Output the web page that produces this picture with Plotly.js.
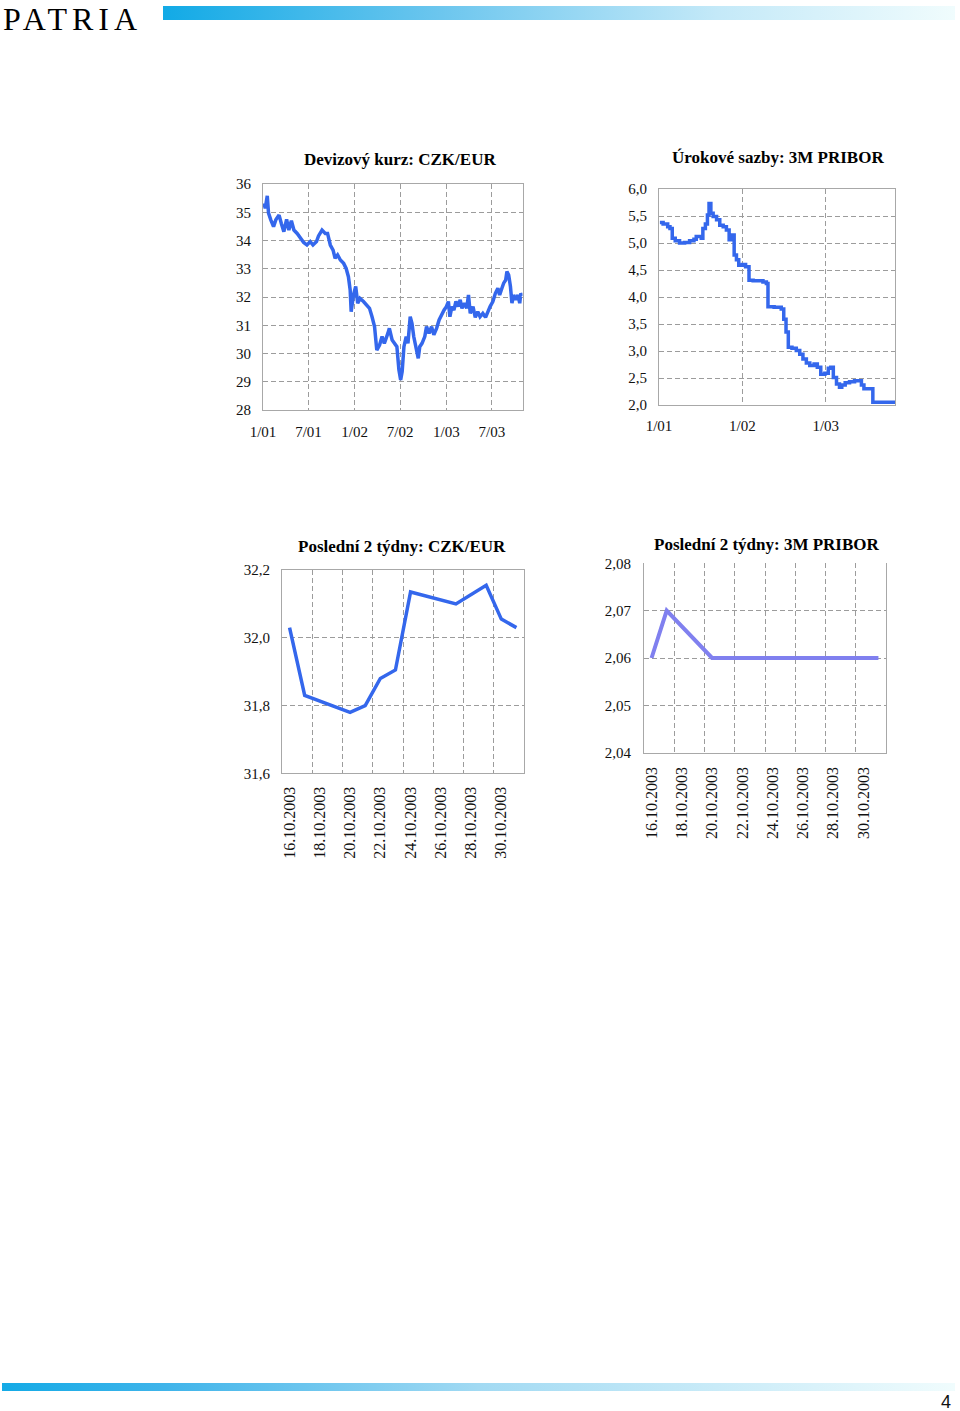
<!DOCTYPE html>
<html>
<head>
<meta charset="utf-8">
<script src="https://cdn.plot.ly/plotly-3.0.1.min.js"></script>
<style>
  html, body { margin: 0; padding: 0; background: #fff; }
  #page { width: 960px; height: 1411px; }
</style>
</head>
<body>
<div id="page"></div>
<script>
// ---------------- DATA ----------------
// Devizový kurz CZK/EUR
const czDates = [
  '2001-01-05','2001-01-10','2001-01-18','2001-01-23','2001-02-01','2001-02-12','2001-02-21','2001-03-06',
  '2001-03-15','2001-03-25','2001-04-05','2001-04-14','2001-04-24','2001-05-04','2001-05-17','2001-05-30',
  '2001-06-12','2001-06-25','2001-07-08','2001-07-19','2001-08-02','2001-08-10','2001-08-24','2001-09-06',
  '2001-09-15','2001-09-26','2001-10-07','2001-10-15','2001-10-25','2001-11-05','2001-11-18','2001-11-28',
  '2001-12-07','2001-12-14','2001-12-18','2001-12-27','2002-01-05','2002-01-13','2002-01-22','2002-02-05',
  '2002-02-18','2002-03-01','2002-03-11','2002-03-21','2002-03-30','2002-04-10','2002-04-20','2002-04-29',
  '2002-05-13','2002-05-19','2002-05-30','2002-06-09','2002-06-18','2002-06-26','2002-07-03','2002-07-09',
  '2002-07-16','2002-07-25','2002-08-01','2002-08-10','2002-08-17','2002-08-24','2002-09-01','2002-09-11',
  '2002-09-17','2002-09-26','2002-10-07','2002-10-14','2002-10-24','2002-11-03','2002-11-12','2002-11-23',
  '2002-12-03','2002-12-12','2002-12-23','2003-01-01','2003-01-09','2003-01-15','2003-01-23','2003-01-31',
  '2003-02-08','2003-02-17','2003-02-25','2003-03-04','2003-03-14','2003-03-23','2003-03-30','2003-04-06',
  '2003-04-17','2003-04-26','2003-05-06','2003-05-15','2003-05-26','2003-06-06','2003-06-15','2003-06-24',
  '2003-07-05','2003-07-15','2003-07-25','2003-08-01','2003-08-10','2003-08-17','2003-08-25','2003-08-30',
  '2003-09-06','2003-09-13','2003-09-19','2003-09-26','2003-10-04','2003-10-13','2003-10-20','2003-10-24',
  '2003-10-31'
];
const czRate = [
  35.32,35.14,35.58,34.97,34.73,34.49,34.73,34.90,
  34.60,34.31,34.75,34.37,34.70,34.37,34.25,34.08,
  33.93,33.84,33.96,33.84,33.96,34.16,34.37,34.25,
  34.25,33.84,33.66,33.37,33.49,33.31,33.19,33.01,
  32.72,32.25,31.48,32.07,32.37,31.78,31.95,31.84,
  31.72,31.60,31.30,30.95,30.12,30.30,30.60,30.36,
  30.71,30.89,30.48,30.36,30.24,29.42,29.06,29.36,
  30.24,30.60,30.36,31.30,31.07,30.60,30.30,29.83,
  30.24,30.36,30.60,30.95,30.71,30.95,30.66,30.89,
  31.19,31.36,31.54,31.66,31.84,31.30,31.66,31.54,
  31.84,31.66,31.90,31.60,31.78,31.60,32.07,31.42,
  31.66,31.28,31.48,31.30,31.42,31.28,31.48,31.66,
  31.84,32.13,32.31,32.07,32.31,32.49,32.60,32.90,
  32.78,32.37,31.78,32.07,31.90,32.07,31.78,32.13,
  32.03
];

// Úrokové sazby 3M PRIBOR
const priborDates = [
  '2001-01-05','2001-01-19','2001-02-08','2001-02-18','2001-02-28','2001-03-13','2001-04-01','2001-04-23',
  '2001-05-15','2001-06-03','2001-06-13','2001-07-05','2001-07-12','2001-07-23','2001-08-01','2001-08-08',
  '2001-08-16','2001-08-26','2001-09-10','2001-09-24','2001-10-09','2001-10-23','2001-11-04','2001-11-15',
  '2001-11-26','2001-12-06','2001-12-16','2002-01-01','2002-01-15','2002-01-30','2002-02-17','2002-03-10',
  '2002-04-01','2002-04-16','2002-04-23','2002-05-20','2002-06-20','2002-07-01','2002-07-11','2002-07-21',
  '2002-08-06','2002-08-25','2002-09-09','2002-09-23','2002-10-08','2002-10-23','2002-11-11','2002-11-25',
  '2002-12-10','2002-12-28','2003-01-12','2003-01-23','2003-02-03','2003-02-17','2003-03-02','2003-03-12',
  '2003-03-27','2003-04-15','2003-05-07','2003-05-21','2003-06-06','2003-06-17','2003-07-19','2003-07-26',
  '2003-09-01','2003-10-31'
];
const priborRate = [
  5.38,5.35,5.30,5.27,5.09,5.04,5.00,5.01,
  5.04,5.07,5.12,5.09,5.27,5.35,5.52,5.73,
  5.55,5.49,5.43,5.33,5.30,5.24,5.06,5.15,
  4.78,4.69,4.59,4.60,4.56,4.31,4.30,4.30,
  4.28,4.25,3.82,3.81,3.78,3.59,3.35,3.07,
  3.05,3.01,2.94,2.85,2.78,2.73,2.76,2.70,
  2.57,2.59,2.68,2.70,2.51,2.39,2.33,2.37,
  2.41,2.43,2.45,2.45,2.37,2.30,2.30,2.05,
  2.05,2.06
];

// Poslední 2 týdny
const twoWeekDates = ['2003-10-16','2003-10-17','2003-10-20','2003-10-21','2003-10-22','2003-10-23',
                      '2003-10-24','2003-10-27','2003-10-29','2003-10-30','2003-10-31'];
const czk2w    = [32.03,31.83,31.78,31.80,31.88,31.905,32.135,32.10,32.155,32.055,32.03];
const pribor2w = [2.06,2.07,2.06,2.06,2.06,2.06,2.06,2.06,2.06,2.06,2.06];

// Tick labels
const longTickDates = ['2001-01-01','2001-07-01','2002-01-01','2002-07-01','2003-01-01','2003-07-01'];
const longTickText  = ['1/01','7/01','1/02','7/02','1/03','7/03'];
const yearTickDates = ['2001-01-01','2002-01-01','2003-01-01'];
const yearTickText  = ['1/01','1/02','1/03'];
const shortTickDates = ['2003-10-16','2003-10-18','2003-10-20','2003-10-22','2003-10-24','2003-10-26','2003-10-28','2003-10-30'];
const shortTickText  = ['16.10.2003','18.10.2003','20.10.2003','22.10.2003','24.10.2003','26.10.2003','28.10.2003','30.10.2003'];
const shortGridDates = ['2003-10-17 12:00','2003-10-19 12:00','2003-10-21 12:00','2003-10-23 12:00','2003-10-25 12:00','2003-10-27 12:00','2003-10-29 12:00'];

const titles = ['Devizový kurz: CZK/EUR','Úrokové sazby: 3M PRIBOR','Poslední 2 týdny: CZK/EUR','Poslední 2 týdny: 3M PRIBOR'];

// ---------------- LAYOUT ----------------
const W = 960, H = 1411;
const fx = x => x / W;
const fy = y => 1 - y / H;

const SERIF = 'Liberation Serif, Times New Roman, serif';
const BLUE = '#3467ec';
const LAV  = '#8080ef';

function axisBase(extra) {
  return Object.assign({
    showgrid: true, gridcolor: '#9c9c9c', griddash: '5px,3px', gridwidth: 1,
    zeroline: false, showline: true, linecolor: '#a8a8a8', linewidth: 1, mirror: true,
    ticks: '', tickfont: { family: SERIF, size: 15, color: '#111' }, fixedrange: true
  }, extra);
}

const gradSvg = (stops) => 'data:image/svg+xml;base64,' + btoa(
  '<svg xmlns="http://www.w3.org/2000/svg" width="1000" height="20" viewBox="0 0 1000 20" preserveAspectRatio="none">' +
  '<defs><linearGradient id="g" x1="0" y1="0" x2="1" y2="0">' +
  stops.map(s => '<stop offset="' + s[0] + '" stop-color="' + s[1] + '"/>').join('') +
  '</linearGradient></defs><rect x="0" y="0" width="1000" height="20" fill="url(#g)"/></svg>');

const traces = [
  { x: czDates, y: czRate, xaxis: 'x', yaxis: 'y', mode: 'lines', type: 'scatter',
    line: { color: BLUE, width: 3.5 }, hoverinfo: 'skip' },
  { x: priborDates, y: priborRate, xaxis: 'x2', yaxis: 'y2', mode: 'lines', type: 'scatter',
    line: { color: BLUE, width: 3.5, shape: 'hv' }, hoverinfo: 'skip' },
  { x: twoWeekDates, y: czk2w, xaxis: 'x3', yaxis: 'y3', mode: 'lines', type: 'scatter',
    line: { color: BLUE, width: 3.5 }, hoverinfo: 'skip' },
  { x: twoWeekDates, y: pribor2w, xaxis: 'x4', yaxis: 'y4', mode: 'lines', type: 'scatter',
    line: { color: LAV, width: 4 }, hoverinfo: 'skip' }
];

const titleFont = { family: SERIF, size: 17, color: '#000' };

const layout = {
  width: W, height: H,
  margin: { l: 0, r: 0, t: 0, b: 0 },
  paper_bgcolor: '#fff', plot_bgcolor: '#fff',
  showlegend: false,
  separators: ', ',
  xaxis: axisBase({ domain: [fx(263), fx(522.5)], anchor: 'y', type: 'date',
    range: ['2001-01-01', '2003-10-31'], tickmode: 'array', tickvals: longTickDates, ticktext: longTickText,
    ticklabelstandoff: 8 }),
  yaxis: axisBase({ domain: [fy(410), fy(184)], anchor: 'x', range: [28, 36], tick0: 28, dtick: 1,
    ticklabelstandoff: 8 }),
  xaxis2: axisBase({ domain: [fx(659), fx(895)], anchor: 'y2', type: 'date',
    range: ['2001-01-01', '2003-10-31'], tickmode: 'array', tickvals: yearTickDates, ticktext: yearTickText,
    ticklabelstandoff: 7 }),
  yaxis2: axisBase({ domain: [fy(405), fy(189)], anchor: 'x2', range: [2, 6], tick0: 2, dtick: 0.5,
    tickformat: '.1f', ticklabelstandoff: 8 }),
  xaxis3: axisBase({ domain: [fx(282), fx(524)], anchor: 'y3', type: 'date',
    range: ['2003-10-15 12:00', '2003-10-31 12:00'], tickmode: 'array', tickvals: shortTickDates, ticktext: shortTickText,
    tickangle: -90, showgrid: false, tickfont: { family: SERIF, size: 16, color: '#111' }, ticklabelstandoff: 6,
    minor: { tickmode: 'array', tickvals: shortGridDates, showgrid: true, gridcolor: '#9c9c9c', griddash: '5px,3px', gridwidth: 1, ticks: '' } }),
  yaxis3: axisBase({ domain: [fy(773.3), fy(570)], anchor: 'x3', range: [31.6, 32.2], tick0: 31.6, dtick: 0.2,
    tickformat: '.1f', ticklabelstandoff: 8 }),
  xaxis4: axisBase({ domain: [fx(644), fx(886)], anchor: 'y4', type: 'date', mirror: false,
    range: ['2003-10-15 12:00', '2003-10-31 12:00'], tickmode: 'array', tickvals: shortTickDates, ticktext: shortTickText,
    tickangle: -90, showgrid: false, tickfont: { family: SERIF, size: 16, color: '#111' }, ticklabelstandoff: 7,
    minor: { tickmode: 'array', tickvals: shortGridDates, showgrid: true, gridcolor: '#9c9c9c', griddash: '5px,3px', gridwidth: 1, ticks: '' } }),
  yaxis4: axisBase({ domain: [fy(752.7), fy(563.3)], anchor: 'x4', range: [2.04, 2.08], tick0: 2.04, dtick: 0.01,
    tickformat: '.2f', ticklabelstandoff: 9 }),
  annotations: [
    { text: '<b>' + titles[0] + '</b>', xref: 'paper', yref: 'paper', x: fx(400), y: fy(159), xanchor: 'center', yanchor: 'middle', showarrow: false, font: titleFont },
    { text: '<b>' + titles[1] + '</b>', xref: 'paper', yref: 'paper', x: fx(778), y: fy(158), xanchor: 'center', yanchor: 'middle', showarrow: false, font: titleFont },
    { text: '<b>' + titles[2] + '</b>', xref: 'paper', yref: 'paper', x: fx(402), y: fy(546), xanchor: 'center', yanchor: 'middle', showarrow: false, font: titleFont },
    { text: '<b>' + titles[3] + '</b>', xref: 'paper', yref: 'paper', x: fx(767), y: fy(544), xanchor: 'center', yanchor: 'middle', showarrow: false, font: titleFont },
    { text: '<span style="letter-spacing:5px">PATRIA</span>', xref: 'paper', yref: 'paper', x: fx(2), y: 1, xanchor: 'left', yanchor: 'top',
      showarrow: false, borderpad: 0, font: { family: SERIF, size: 32, color: '#000' } },
    { text: '4', xref: 'paper', yref: 'paper', x: fx(946), y: fy(1402), xanchor: 'center', yanchor: 'middle', showarrow: false,
      font: { family: 'Liberation Sans Narrow, Liberation Sans, sans-serif', size: 18, color: '#111' } }
  ],
  images: [
    { source: gradSvg([[0, '#12aae6'], [0.35, '#6cc6ee'], [0.7, '#c4e9f8'], [1, '#f0fcfd']]),
      xref: 'paper', yref: 'paper', x: fx(163), y: fy(6), sizex: (955 - 163) / W, sizey: 14 / H,
      xanchor: 'left', yanchor: 'top', sizing: 'stretch', layer: 'above' },
    { source: gradSvg([[0, '#14aae6'], [0.17, '#3fb4ea'], [0.5, '#a2daf3'], [1, '#f0fcfd']]),
      xref: 'paper', yref: 'paper', x: fx(2), y: fy(1383), sizex: (955 - 2) / W, sizey: 8 / H,
      xanchor: 'left', yanchor: 'top', sizing: 'stretch', layer: 'above' }
  ]
};

Plotly.newPlot('page', traces, layout, { staticPlot: true, displayModeBar: false });
</script>
</body>
</html>
